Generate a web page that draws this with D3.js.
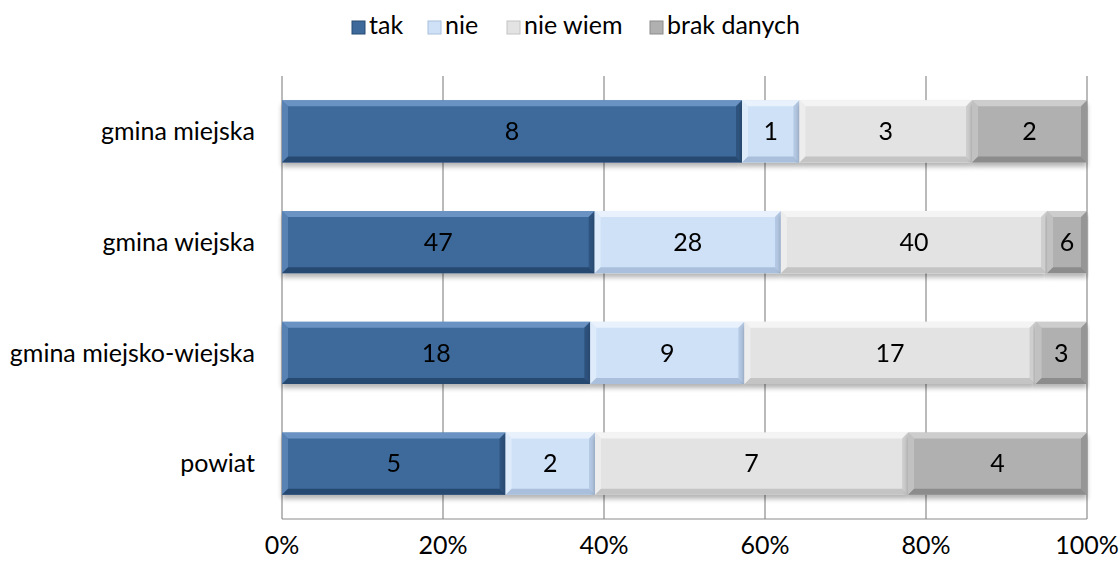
<!DOCTYPE html>
<html>
<head>
<meta charset="utf-8">
<script src="https://cdn.jsdelivr.net/npm/d3@7"></script>
<style>
  body { margin: 0; background: #fff; }
  svg { display: block; font-family: Lato, "Open Sans", sans-serif; }
</style>
</head>
<body>
<div id="chart"></div>
<script>
const categories = ["gmina miejska", "gmina wiejska", "gmina miejsko-wiejska", "powiat"];
const seriesNames = ["tak", "nie", "nie wiem", "brak danych"];
const tak = [8, 47, 18, 5];
const nie = [1, 28, 9, 2];
const nieWiem = [3, 40, 17, 7];
const brakDanych = [2, 6, 3, 4];
const tickLabels = ["0%", "20%", "40%", "60%", "80%", "100%"];

const colors = ["#3d6a9b", "#cfe1f7", "#e3e3e3", "#b0b0b0"];
const lighter = ["#6a93c4", "#e8f1fc", "#f4f4f4", "#cdcdcd"];
const darker = ["#284a72", "#a9bfdc", "#c4c4c4", "#8c8c8c"];

const W = 1119, H = 562;
const margin = { left: 282, right: 32, top: 76, bottom: 43 };
const fs = 25;

const rows = categories.map((c, i) => ({
  cat: c, tak: tak[i], nie: nie[i], "nie wiem": nieWiem[i], "brak danych": brakDanych[i]
}));

const stack = d3.stack().keys(seriesNames).offset(d3.stackOffsetExpand);
const series = stack(rows);

const x = d3.scaleLinear().domain([0, 1]).range([margin.left, W - margin.right]);
const y = d3.scaleBand().domain(categories).range([margin.top, H - margin.bottom]).paddingInner(0.44).paddingOuter(0.22);

const svg = d3.select("#chart").append("svg").attr("width", W).attr("height", H);

const defs = svg.append("defs");
const shadow = defs.append("filter").attr("id", "shadow").attr("x", "-5%").attr("y", "-20%").attr("width", "110%").attr("height", "150%");
shadow.append("feGaussianBlur").attr("in", "SourceAlpha").attr("stdDeviation", 2.5);
shadow.append("feOffset").attr("dx", 0).attr("dy", 4).attr("result", "b");
shadow.append("feComponentTransfer").append("feFuncA").attr("type", "linear").attr("slope", 0.3);
const mg = shadow.append("feMerge");
mg.append("feMergeNode");
mg.append("feMergeNode").attr("in", "SourceGraphic");

// grid
svg.append("g")
  .selectAll("line")
  .data(d3.range(0, 1.0001, 0.2))
  .join("line")
  .attr("x1", d => x(d)).attr("x2", d => x(d))
  .attr("y1", margin.top).attr("y2", H - margin.bottom)
  .attr("stroke", "#8c8c8c").attr("stroke-width", 1.2);

svg.append("line")
  .attr("x1", x(0)).attr("x2", x(1))
  .attr("y1", H - margin.bottom).attr("y2", H - margin.bottom)
  .attr("stroke", "#8c8c8c").attr("stroke-width", 1.2);

// bars
const bv = 6;
const bh = y.bandwidth();
const groups = svg.append("g").selectAll("g")
  .data(series)
  .join("g");

const seg = groups.selectAll("g")
  .data((s, si) => s.map((d, i) => ({ x0: d[0], x1: d[1], cat: categories[i], si, val: d.data[s.key] })))
  .join("g")
  .attr("transform", d => `translate(${x(d.x0)},${y(d.cat)})`)
  .attr("filter", "url(#shadow)");

seg.append("rect")
  .attr("width", d => x(d.x1) - x(d.x0))
  .attr("height", bh)
  .attr("fill", d => colors[d.si]);

// bevel edges
seg.append("path")
  .attr("fill", d => lighter[d.si])
  .attr("d", d => { const w = x(d.x1) - x(d.x0); return `M0,0H${w}L${w - bv},${bv}H${bv}Z`; });
seg.append("path")
  .attr("fill", d => lighter[d.si]).attr("opacity", 0.6)
  .attr("d", d => `M0,0L${bv},${bv}V${bh - bv}L0,${bh}Z`);
seg.append("path")
  .attr("fill", d => darker[d.si])
  .attr("d", d => { const w = x(d.x1) - x(d.x0); return `M0,${bh}H${w}L${w - bv},${bh - bv}H${bv}Z`; });
seg.append("path")
  .attr("fill", d => darker[d.si]).attr("opacity", 0.7)
  .attr("d", d => { const w = x(d.x1) - x(d.x0); return `M${w},0L${w - bv},${bv}V${bh - bv}L${w},${bh}Z`; });

seg.append("text")
  .attr("x", d => (x(d.x1) - x(d.x0)) / 2)
  .attr("y", bh / 2)
  .attr("dy", "0.35em")
  .attr("text-anchor", "middle")
  .attr("font-size", fs)
  .attr("fill", "#000")
  .text(d => d.val);

// category labels
svg.append("g").selectAll("text")
  .data(categories)
  .join("text")
  .attr("x", 255)
  .attr("y", d => y(d) + bh / 2)
  .attr("dy", "0.35em")
  .attr("text-anchor", "end")
  .attr("font-size", fs)
  .text(d => d);

// x tick labels
svg.append("g").selectAll("text")
  .data(tickLabels)
  .join("text")
  .attr("x", (d, i) => x(i * 0.2))
  .attr("y", 554)
  .attr("text-anchor", "middle")
  .attr("font-size", fs)
  .text(d => d);

// legend
const legendX = [352, 428, 507, 650];
const legend = svg.append("g").selectAll("g")
  .data(seriesNames)
  .join("g")
  .attr("transform", (d, i) => `translate(${legendX[i]},34)`);
legend.append("rect")
  .attr("x", 0).attr("y", -13).attr("width", 13).attr("height", 13)
  .attr("fill", (d, i) => colors[i])
  .attr("stroke", (d, i) => darker[i]).attr("stroke-width", 1);
legend.append("text")
  .attr("x", 17)
  .attr("font-size", fs)
  .text(d => d);
</script>
</body>
</html>
